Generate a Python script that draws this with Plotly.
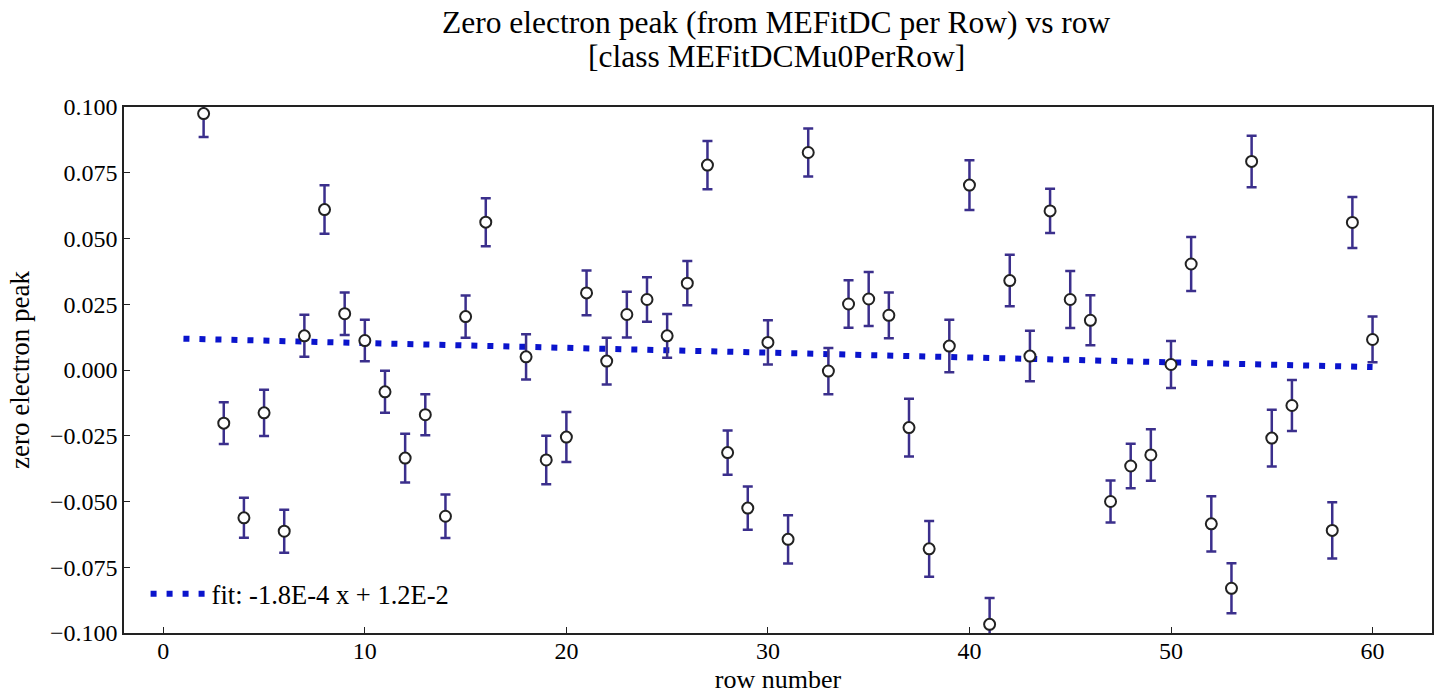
import plotly.graph_objects as go

rows = [2, 3, 4, 5, 6, 7, 8, 9, 10, 11, 12, 13, 14, 15, 16,
        18, 19, 20, 21, 22, 23, 24, 25, 26, 27, 28, 29, 30, 31, 32,
        33, 34, 35, 36, 37, 38, 39, 40, 41, 42, 43, 44, 45, 46, 47,
        48, 49, 50, 51, 52, 53, 54, 55, 56, 58, 59, 60]

mu0 = [0.0975, -0.0202, -0.0562, -0.0163, -0.0613, 0.0130, 0.0610, 0.0214, 0.0112, -0.0083,
       -0.0335, -0.0170, -0.0556, 0.0203, 0.0562,
       0.0050, -0.0342, -0.0255, 0.0293, 0.0034, 0.0211, 0.0268, 0.0130, 0.0330, 0.0779,
       -0.0314, -0.0525, 0.0105, -0.0644, 0.0827,
       -0.0004, 0.0251, 0.0270, 0.0208, -0.0219, -0.0680, 0.0091, 0.0703, -0.0967, 0.0340,
       0.0053, 0.0605, 0.0268, 0.0189, -0.0500,
       -0.0365, -0.0323, 0.0021, 0.0403, -0.0585, -0.0830, 0.0793, -0.0259, -0.0135,
       -0.0610, 0.0561, 0.0116]

mu0_err = [0.0089, 0.0079, 0.0076, 0.0088, 0.0082, 0.0080, 0.0092, 0.0081, 0.0079, 0.0080,
           0.0093, 0.0078, 0.0083, 0.0080, 0.0091,
           0.0086, 0.0092, 0.0095, 0.0085, 0.0089, 0.0087, 0.0085, 0.0083, 0.0084, 0.0092,
           0.0084, 0.0082, 0.0084, 0.0092, 0.0091,
           0.0088, 0.0090, 0.0103, 0.0087, 0.0110, 0.0106, 0.0100, 0.0095, 0.0100, 0.0098,
           0.0096, 0.0084, 0.0108, 0.0095, 0.0080,
           0.0085, 0.0098, 0.0089, 0.0103, 0.0105, 0.0095, 0.0098, 0.0108, 0.0097,
           0.0107, 0.0097, 0.0087]

fit_x = [1, 60]
fit_y = [0.0119, 0.0011]
fit_label = "fit: -1.8E-4 x + 1.2E-2"

title_lines = ["Zero electron peak (from MEFitDC per Row) vs row",
               "[class MEFitDCMu0PerRow]"]
x_label = "row number"
y_label = "zero electron peak"

FONT = "Liberation Serif"

fig = go.Figure()

fig.add_trace(go.Scatter(
    x=fit_x, y=fit_y, mode="lines", name=fit_label,
    line=dict(color="#0a14cc", width=6, dash="6px,10px"),
    showlegend=True,
))

fig.add_trace(go.Scatter(
    x=rows, y=mu0, mode="markers", showlegend=False,
    marker=dict(symbol="circle", size=11, color="white",
                line=dict(color="#222222", width=2)),
    error_y=dict(type="data", array=mu0_err, visible=True,
                 color="#3b2f8c", thickness=2.5, width=5),
    cliponaxis=False,
))

title_y = [1.1603, 1.0955]
for txt, yy in zip(title_lines, title_y):
    fig.add_annotation(text=txt, xref="paper", yref="paper", x=0.4985, y=yy,
                       xanchor="center", yanchor="middle", showarrow=False,
                       font=dict(family=FONT, size=31.5, color="black"))

fig.update_layout(
    width=1443, height=698,
    margin=dict(l=124, r=9, t=107, b=64),
    paper_bgcolor="white", plot_bgcolor="white",
    font=dict(family=FONT, size=24, color="black"),
    legend=dict(x=0.0165, y=0.074, xanchor="left", yanchor="middle",
                itemwidth=56,
                bgcolor="rgba(0,0,0,0)", font=dict(family=FONT, size=26.5)),
    showlegend=True,
)

fig.update_xaxes(
    range=[-1.95, 62.95], tick0=0, dtick=10,
    showgrid=False, zeroline=False,
    showline=True, linecolor="#222222", linewidth=1.5, mirror=True,
    ticks="inside", ticklen=6, tickwidth=1.2, tickcolor="#222222",
    tickfont=dict(family=FONT, size=24), ticklabelstandoff=-5,
    title=dict(text=x_label, font=dict(family=FONT, size=26), standoff=7),
)

fig.update_yaxes(
    range=[-0.1, 0.1], tick0=0, dtick=0.025, tickformat=".3f",
    showgrid=False, zeroline=False,
    showline=True, linecolor="#222222", linewidth=1.5, mirror=True,
    ticks="inside", ticklen=6, tickwidth=1.2, tickcolor="#222222",
    tickfont=dict(family=FONT, size=24),
    title=dict(text=y_label, font=dict(family=FONT, size=27), standoff=12),
)

fig.write_html("out.html", config={"displayModeBar": False},
               post_script="document.body.style.margin='0';document.body.style.overflow='hidden';")
